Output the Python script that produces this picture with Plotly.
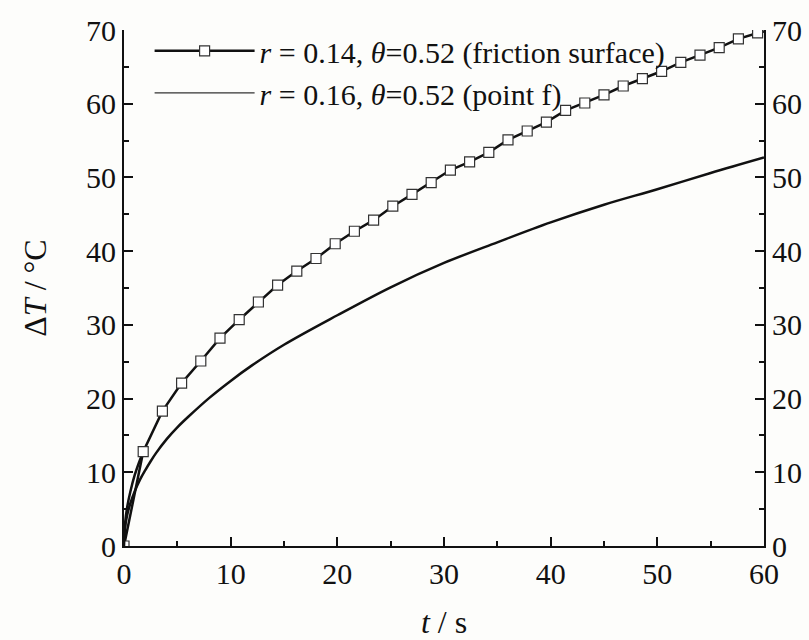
import plotly.graph_objects as go

# friction surface (r=0.14) - marker points
t_fric = [0, 1.8, 3.6, 5.4, 7.2, 9.0, 10.8, 12.6, 14.4, 16.2, 18.0, 19.8, 21.6, 23.4,
          25.2, 27.0, 28.8, 30.6, 32.4, 34.2, 36.0, 37.8, 39.6, 41.4, 43.2, 45.0,
          46.8, 48.6, 50.4, 52.2, 54.0, 55.8, 57.6, 59.4]
T_fric = [0, 12.8, 18.3, 22.1, 25.1, 28.2, 30.7, 33.1, 35.4, 37.3, 39.0, 41.0, 42.7, 44.2,
          46.1, 47.7, 49.3, 51.0, 52.1, 53.4, 55.1, 56.3, 57.5, 59.1, 60.1, 61.2,
          62.4, 63.4, 64.4, 65.6, 66.6, 67.6, 68.8, 69.6]
# extra line points near the start and end of the friction curve
t_fric_line = [0, 0.1, 0.3, 0.6, 1.0, 1.4, 1.8]
T_fric_line = [0, 3.0, 5.3, 7.4, 9.6, 11.3, 12.8]
t_fric_end = [59.4, 60]
T_fric_end = [69.6, 69.8]

# point f (r=0.16)
t_f = [0, 0.1, 0.3, 0.6, 1.0, 1.5, 2.0, 2.5, 3.0, 4.0, 5.0, 6.0, 8.0, 10, 12, 15,
       20, 25, 30, 35, 40, 45, 50, 55, 60]
T_f = [0, 2.5, 4.2, 5.8, 7.4, 9.0, 10.3, 11.5, 12.6, 14.5, 16.1, 17.5, 20.1, 22.4,
       24.5, 27.3, 31.3, 35.1, 38.4, 41.2, 43.9, 46.3, 48.4, 50.6, 52.7]

x_ticks = [0, 10, 20, 30, 40, 50, 60]
y_ticks = [0, 10, 20, 30, 40, 50, 60, 70]

FONT = "Liberation Serif"
BLACK = "#111111"

fig = go.Figure()

fig.add_trace(go.Scatter(x=t_fric_line, y=T_fric_line, mode="lines", line_shape="spline",
                         line=dict(color=BLACK, width=2.5), showlegend=False, hoverinfo="skip"))
fig.add_trace(go.Scatter(x=t_fric_end, y=T_fric_end, mode="lines",
                         line=dict(color=BLACK, width=2.5), showlegend=False, hoverinfo="skip"))
fig.add_trace(go.Scatter(
    x=t_fric, y=T_fric, mode="lines+markers",
    name="<i>r</i> = 0.14, <i>θ</i>=0.52 (friction surface)",
    line=dict(color=BLACK, width=2.5),
    marker=dict(symbol="square", size=10, color="white", line=dict(color="#333333", width=1.2)),
))
fig.add_trace(go.Scatter(
    x=t_f, y=T_f, mode="lines", line_shape="spline",
    line=dict(color=BLACK, width=2.5), showlegend=False, legendgroup="f",
))
# legend entry for point f (thin line, as in the original legend)
fig.add_trace(go.Scatter(
    x=[None], y=[None], mode="lines", legendgroup="f",
    name="<i>r</i> = 0.16, <i>θ</i>=0.52 (point f)",
    line=dict(color="#333333", width=1.2),
))
# invisible trace to carry the right axis
fig.add_trace(go.Scatter(x=[0], y=[0], yaxis="y2", mode="markers",
                         marker=dict(opacity=0), showlegend=False, hoverinfo="skip"))

axis_common = dict(
    showgrid=False, zeroline=False, showline=True, linecolor=BLACK, linewidth=2,
    ticks="inside", tickcolor=BLACK, tickwidth=2, ticklen=9, automargin=False,
    tickfont=dict(family=FONT, size=30, color=BLACK),
)
minor = dict(ticks="inside", ticklen=5, tickwidth=2, tickcolor=BLACK, dtick=5)

fig.update_layout(
    width=809, height=640,
    margin=dict(l=124, r=45, t=29.5, b=93.5),
    paper_bgcolor="#fdfdfb", plot_bgcolor="#fdfdfb",
    font=dict(family=FONT, color=BLACK),
    xaxis=dict(range=[0, 60], tickvals=x_ticks, ticktext=[str(v) for v in x_ticks],
               minor=minor,
               title=dict(text="<i>t</i> / s", font=dict(family=FONT, size=32, color=BLACK), standoff=26),
               **axis_common),
    yaxis=dict(range=[0, 70], tickvals=y_ticks, ticktext=[str(v) for v in y_ticks],
               minor=minor,
               title=dict(text="Δ<i>T</i> / °C", font=dict(family=FONT, size=32, color=BLACK), standoff=30),
               **axis_common),
    yaxis2=dict(range=[0, 70], overlaying="y", side="right", tickvals=y_ticks,
                ticktext=[str(v) for v in y_ticks], minor=minor,
                **axis_common),
    legend=dict(x=0.04, y=1.01, xanchor="left", yanchor="top", bgcolor="rgba(0,0,0,0)",
                font=dict(family=FONT, size=30, color=BLACK), itemwidth=100,
                tracegroupgap=0),
    showlegend=True,
)

fig.write_html("out.html")
